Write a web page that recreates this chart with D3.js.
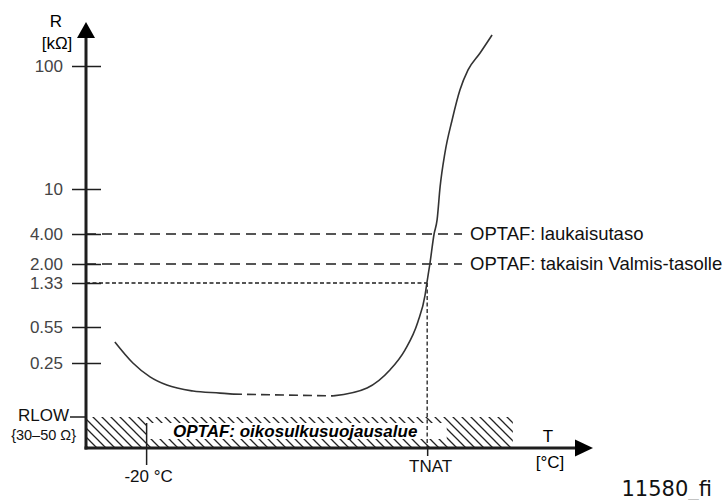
<!DOCTYPE html>
<html>
<head>
<meta charset="utf-8">
<script src="https://cdn.jsdelivr.net/npm/d3@7"></script>
<style>
body { margin: 0; background: #fff; }
text { font-family: "Liberation Sans", Arial, sans-serif; }
</style>
</head>
<body>
<div id="chart"></div>
<script>
// chart values (R in kOhm, T in degrees C)
var yTickValues = [100, 10, 4.00, 2.00, 1.33, 0.55, 0.25];
var yTickLabels = ["100", "10", "4.00", "2.00", "1.33", "0.55", "0.25"];
var rLow = 0.04;
var tLow = -20;
var tNat = 73.5;
var levelValues = [4.00, 2.00];
var levelLabels = ["OPTAF: laukaisutaso", "OPTAF: takaisin Valmis-tasolle"];
var natLevel = 1.33;
var xTickValues = [tLow, tNat];
var xTickLabels = ["-20 °C", "TNAT"];
var zoneLabel = "OPTAF: oikosulkusuojausalue";
var zoneT = [-20, 80, 102];

var curveT = [-30.4, -24.4, -18.7, -13.1, -4.4, 4.6, 8.9, 42.2, 53.5, 61.1, 66.1, 70.4, 72.8,
    73.4, 74.4, 75.8, 76.8, 77.8, 79.4, 81.8, 84.4, 87.1, 91.1, 95.1];
var curveR = [0.425, 0.25, 0.196, 0.164, 0.141, 0.133, 0.129, 0.122, 0.153, 0.223, 0.358, 0.639, 1.117,
    1.33, 2.0, 4.0, 5.87, 11.5, 36.3, 60.5, 82.4, 97.1, 109.5, 122.7];
var dashFrom = 6;
var dashTo = 7;

// SVG
var svgWidth = 724;
var svgHeight = 500;

var svg = d3.select("#chart")
    .append("svg")
    .attr("width", svgWidth)
    .attr("height", svgHeight);

var ink = "#1e1e1e";
var originX = 86;
var originY = 448;

// scales: schematic y axis, piecewise between the labelled levels
var x = d3.scaleLinear()
    .domain([-40, 130])
    .range([originX, 597]);

var y = d3.scaleLinear()
    .domain([rLow, 0.25, 0.55, 1.33, 2, 4, 10, 100])
    .range([417, 363, 327, 283, 264, 234, 189, 66]);

// hatch pattern
var defs = svg.append("defs");
defs.append("pattern")
    .attr("id", "hatch")
    .attr("patternUnits", "userSpaceOnUse")
    .attr("width", 9)
    .attr("height", 9)
    .append("path")
    .attr("d", "M0,0L9,9M-1,8L1,10M8,-1L10,1")
    .attr("stroke", "#222")
    .attr("stroke-width", 1.3);

// short-circuit zone
svg.append("rect")
    .attr("x", originX)
    .attr("y", y(rLow))
    .attr("width", x(zoneT[2]) - originX)
    .attr("height", originY - y(rLow))
    .attr("fill", "url(#hatch)");

svg.append("rect")
    .attr("x", x(zoneT[0]))
    .attr("y", 423)
    .attr("width", x(zoneT[1]) - x(zoneT[0]))
    .attr("height", 16)
    .attr("fill", "#fff");

svg.append("text")
    .attr("x", 173)
    .attr("y", 437)
    .attr("font-size", 17)
    .attr("font-weight", "bold")
    .attr("font-style", "italic")
    .attr("fill", "#000")
    .text(zoneLabel);

// level lines
svg.selectAll(".level")
    .data(levelValues)
    .enter()
    .append("line")
    .attr("class", "level")
    .attr("x1", originX)
    .attr("x2", 462)
    .attr("y1", d => y(d))
    .attr("y2", d => y(d))
    .attr("stroke", ink)
    .attr("stroke-width", 1.5)
    .attr("stroke-dasharray", "10,6");

svg.selectAll(".levelLabel")
    .data(levelValues)
    .enter()
    .append("text")
    .attr("class", "levelLabel")
    .attr("x", 470)
    .attr("y", d => y(d))
    .attr("dy", "0.35em")
    .attr("font-size", 18.5)
    .attr("fill", "#111")
    .text((d, i) => levelLabels[i]);

svg.append("line")
    .attr("x1", originX)
    .attr("x2", x(tNat))
    .attr("y1", y(natLevel))
    .attr("y2", y(natLevel))
    .attr("stroke", ink)
    .attr("stroke-width", 1.3)
    .attr("stroke-dasharray", "4,2.5");

svg.append("line")
    .attr("x1", x(tNat))
    .attr("x2", x(tNat))
    .attr("y1", y(natLevel))
    .attr("y2", originY)
    .attr("stroke", ink)
    .attr("stroke-width", 1.3)
    .attr("stroke-dasharray", "4,2.5");

// curve
var curveData = curveT.map((t, i) => ({t: t, r: curveR[i]}));
var line = d3.line()
    .x(d => x(d.t))
    .y(d => y(d.r))
    .curve(d3.curveMonotoneX);

svg.append("path")
    .datum(curveData.slice(0, dashFrom + 1))
    .attr("d", line)
    .attr("fill", "none")
    .attr("stroke", "#333")
    .attr("stroke-width", 1.6);

svg.append("path")
    .datum(curveData.slice(dashFrom, dashTo + 1))
    .attr("d", line)
    .attr("fill", "none")
    .attr("stroke", "#333")
    .attr("stroke-width", 1.6)
    .attr("stroke-dasharray", "9,5");

svg.append("path")
    .datum(curveData.slice(dashTo))
    .attr("d", line)
    .attr("fill", "none")
    .attr("stroke", "#333")
    .attr("stroke-width", 1.6);

// y axis ticks
var leftAxis = d3.axisLeft(y)
    .tickValues(yTickValues)
    .tickFormat((d, i) => yTickLabels[i])
    .tickSizeInner(29)
    .tickSizeOuter(0)
    .tickPadding(9);

var yAxis = svg.append("g")
    .attr("transform", `translate(${originX + 15}, 0)`)
    .call(leftAxis);
yAxis.select(".domain").remove();
yAxis.selectAll("line").attr("stroke", ink).attr("stroke-width", 1.5);
yAxis.selectAll("text")
    .attr("font-size", 17)
    .attr("fill", "#444")
    .style("font-family", "'Liberation Sans', Arial, sans-serif");

// RLOW tick
svg.append("line")
    .attr("x1", 70)
    .attr("x2", originX)
    .attr("y1", y(rLow))
    .attr("y2", y(rLow))
    .attr("stroke", ink)
    .attr("stroke-width", 1.5);

svg.append("text")
    .attr("x", 69)
    .attr("y", 421)
    .attr("text-anchor", "end")
    .attr("font-size", 17)
    .attr("fill", "#111")
    .text("RLOW");

svg.append("text")
    .attr("x", 76)
    .attr("y", 440)
    .attr("text-anchor", "end")
    .attr("font-size", 14.5)
    .attr("fill", "#111")
    .text("{30–50 Ω}");

// x axis ticks
var bottomAxis = d3.axisBottom(x)
    .tickValues(xTickValues)
    .tickFormat((d, i) => xTickLabels[i])
    .tickSizeOuter(0);

var xAxis = svg.append("g")
    .attr("transform", `translate(0, ${originY})`)
    .call(bottomAxis);
xAxis.select(".domain").remove();
var tickTop = [-25, 0];
var tickBottom = [17, 8];
var labelBase = [34, 24];
xAxis.selectAll(".tick line")
    .attr("y1", (d, i) => tickTop[i])
    .attr("y2", (d, i) => tickBottom[i])
    .attr("stroke", ink)
    .attr("stroke-width", 1.5);
xAxis.selectAll(".tick text")
    .attr("y", (d, i) => labelBase[i])
    .attr("dy", 0)
    .attr("dx", (d, i) => i === 1 ? 3 : 2)
    .attr("font-size", 17)
    .attr("fill", "#111")
    .style("font-family", "'Liberation Sans', Arial, sans-serif");

// main axes with arrows
svg.append("line")
    .attr("x1", originX)
    .attr("x2", originX)
    .attr("y1", originY + 1.5)
    .attr("y2", 37)
    .attr("stroke", ink)
    .attr("stroke-width", 3);

svg.append("path")
    .attr("d", `M${originX - 9},38L${originX},22L${originX + 9},38Z`)
    .attr("fill", "#000");

svg.append("line")
    .attr("x1", originX - 1.5)
    .attr("x2", 576)
    .attr("y1", originY)
    .attr("y2", originY)
    .attr("stroke", ink)
    .attr("stroke-width", 3);

svg.append("path")
    .attr("d", `M575,${originY - 8.5}L593,${originY}L575,${originY + 8.5}Z`)
    .attr("fill", "#000");

// axis titles
svg.append("text")
    .attr("x", 56)
    .attr("y", 27)
    .attr("text-anchor", "middle")
    .attr("font-size", 17)
    .text("R");

svg.append("text")
    .attr("x", 57)
    .attr("y", 49)
    .attr("text-anchor", "middle")
    .attr("font-size", 17)
    .text("[kΩ]");

svg.append("text")
    .attr("x", 548)
    .attr("y", 442)
    .attr("text-anchor", "middle")
    .attr("font-size", 17)
    .text("T");

svg.append("text")
    .attr("x", 550)
    .attr("y", 468)
    .attr("text-anchor", "middle")
    .attr("font-size", 17)
    .text("[°C]");

svg.append("text")
    .attr("x", 712)
    .attr("y", 496)
    .attr("text-anchor", "end")
    .attr("font-size", 21)
    .style("font-family", "'DejaVu Sans', Verdana, sans-serif")
    .attr("fill", "#111")
    .text("11580_fi");
</script>
</body>
</html>
